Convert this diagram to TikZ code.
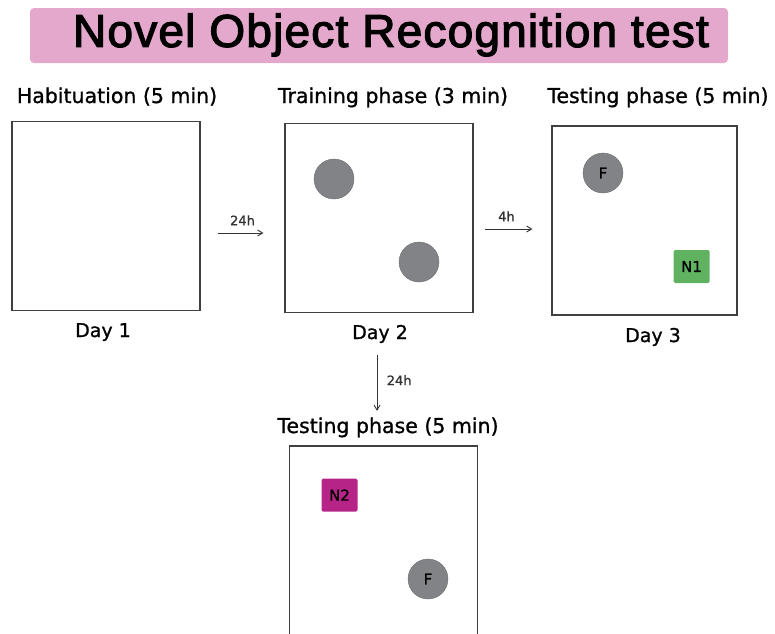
\documentclass[tikz,border=0pt]{standalone}
\usepackage{fontspec}
\setmainfont{DejaVu Sans}[BoldFont=DejaVu Sans,BoldFeatures={FakeBold=1.0}]
\newfontfamily\titlefont[BoldFont=Liberation Sans,BoldFeatures={FakeBold=2.6},LetterSpace=2.6]{Liberation Sans}
\usepackage{tikz}
\usetikzlibrary{arrows.meta,positioning,calc}

\definecolor{bannerpink}{RGB}{228,168,205}
\definecolor{objgray}{RGB}{130,131,134}
\definecolor{novgreen}{RGB}{96,178,96}
\definecolor{novmagenta}{RGB}{182,36,136}

\begin{document}
\begin{tikzpicture}[x=1pt,y=-1pt]
    \useasboundingbox (0,0) rectangle (775,633);

    \tikzset{arena/.style={draw=black!75,line width=1.1pt,minimum width=188pt,minimum height=189pt,inner sep=0pt},
        heading/.style={anchor=base,font=\bfseries\fontsize{20.5}{24}\selectfont},
        daylabel/.style={anchor=base,font=\bfseries\fontsize{19}{22}\selectfont},
        familiar/.style={circle,fill=objgray,draw=objgray!85!black,minimum size=40pt,inner sep=0pt,
            font=\bfseries\fontsize{15}{16}\selectfont},
        novel/.style={rounded corners=1.5pt,minimum width=36pt,minimum height=33pt,inner sep=0pt,
            font=\bfseries\fontsize{15}{16}\selectfont},
        flow/.style={-{Straight Barb[length=5pt,width=6pt]},line width=0.9pt,black!80},
        delay/.style={font=\bfseries\fontsize{13}{15}\selectfont}}

    % title banner
    \node[fill=bannerpink,rounded corners=4pt,minimum width=698pt,minimum height=55pt] (banner) at (379,35.5) {};
    \node[font=\titlefont\bfseries\fontsize{46}{48}\selectfont] (title) at (391,35) {Novel Object Recognition test};

    % headings
    \node[heading] (head1) at (117,103) {Habituation (5 min)};
    \node[heading] (head2) at (393,103) {Training phase (3 min)};
    \node[heading] (head3) at (658,103) {Testing phase (5 min)};
    \node[heading] (head4) at (388,433) {Testing phase (5 min)};

    % arenas
    \node[arena] (box1) at (106,216) {};
    \node[arena] (box2) at (379,218) {};
    \node[arena,minimum width=185pt] (box3) at (644.5,220.5) {};
    \node[arena,minimum height=200pt] (box4) at (383.5,546) {};

    \node[daylabel] (day1) at (103,337) {Day 1};
    \node[daylabel] (day2) at (380,339) {Day 2};
    \node[daylabel] (day3) at (653,342) {Day 3};

    % objects
    \node[familiar] (obj1) at (334,179) {};
    \node[familiar] (obj2) at (419,262) {};
    \node[familiar] (fam3) at (603,173) {F};
    \node[novel,fill=novgreen] (nov1) at (691.5,266.5) {N1};
    \node[novel,fill=novmagenta] (nov2) at (339.5,495) {N2};
    \node[familiar] (fam4) at (428,579) {F};

    % delays
    \draw[flow,shorten <=17pt,shorten >=21pt] ([yshift=-17pt]box1.east) -- ([yshift=-15pt]box2.west)
        node[delay,midway,above=4pt] (d24a) {24h};
    \draw[flow,shorten <=11pt,shorten >=19pt] ([yshift=-11pt]box2.east) -- ([yshift=-8.5pt]box3.west)
        node[delay,midway,above=4pt,xshift=-6pt] (d4) {4h};
    \draw[flow,shorten <=9pt,shorten >=3pt] ([xshift=-3pt]day2.south) -- ([xshift=-11pt]head4.north)
        node[delay,midway,right=6pt] (d24b) {24h};
\end{tikzpicture}
\end{document}
